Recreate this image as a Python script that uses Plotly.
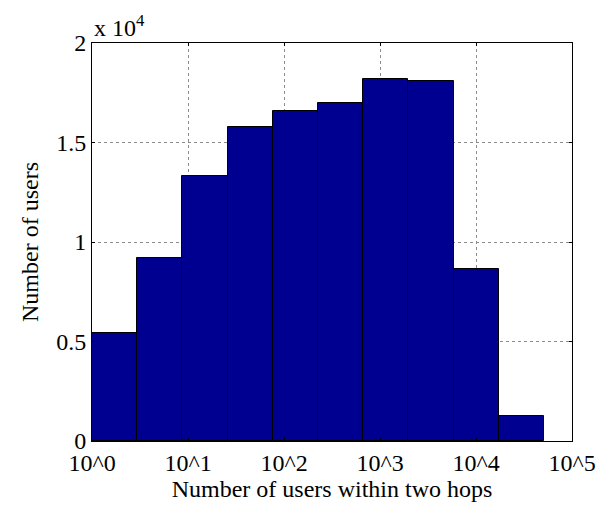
import numpy as np
import plotly.graph_objects as go

# Histogram counts of users per bin (10 log-spaced bins)
counts = [5450, 9220, 13300, 15780, 16600, 17000, 18190, 18100, 8650, 1240]
# Bin range in log10 units (from 10^0 up to the largest value)
log_min, log_max = 0.0, 4.708
tick_vals = [0, 1, 2, 3, 4, 5]
tick_text = ["10^0", "10^1", "10^2", "10^3", "10^4", "10^5"]
y_tick_vals = [0, 5000, 10000, 15000, 20000]
y_tick_text = ["0", "0.5", "1", "1.5", "2"]

edges = np.linspace(log_min, log_max, len(counts) + 1)
centers = (edges[:-1] + edges[1:]) / 2
widths = np.diff(edges)

font_family = "Liberation Serif, Times New Roman, serif"
fsize = 24

fig = go.Figure(
    go.Bar(
        x=centers,
        y=counts,
        width=widths,
        marker=dict(color="#000090", line=dict(color="black", width=1)),
    )
)

axis_common = dict(
    showline=True,
    linecolor="black",
    linewidth=1,
    mirror="ticks",
    ticks="inside",
    ticklen=3,
    tickcolor="black",
    showgrid=True,
    gridcolor="#8c8c8c",
    griddash="dot",
    gridwidth=1,
    zeroline=False,
    tickfont=dict(family=font_family, size=fsize, color="black"),
)

fig.update_layout(
    width=613,
    height=513,
    margin=dict(l=92, r=41, t=43, b=72),
    plot_bgcolor="white",
    paper_bgcolor="white",
    showlegend=False,
    bargap=0,
    font=dict(family=font_family, size=fsize, color="black"),
    xaxis=dict(
        range=[0, 5],
        tickmode="array",
        tickvals=tick_vals,
        ticktext=tick_text,
        title=dict(text="Number of users within two hops", standoff=0,
                   font=dict(family=font_family, size=fsize)),
        **axis_common,
    ),
    yaxis=dict(
        range=[0, 20000],
        tickmode="array",
        tickvals=y_tick_vals,
        ticktext=y_tick_text,
        title=dict(text="Number of users", standoff=10,
                   font=dict(family=font_family, size=fsize)),
        **axis_common,
    ),
    annotations=[
        dict(
            text="x 10<sup>4</sup>",
            xref="paper", yref="paper",
            x=0.0, y=1.0,
            xanchor="left", yanchor="bottom",
            yshift=0,
            showarrow=False,
            font=dict(family=font_family, size=fsize, color="black"),
        )
    ],
)

fig.write_html("out.html")
